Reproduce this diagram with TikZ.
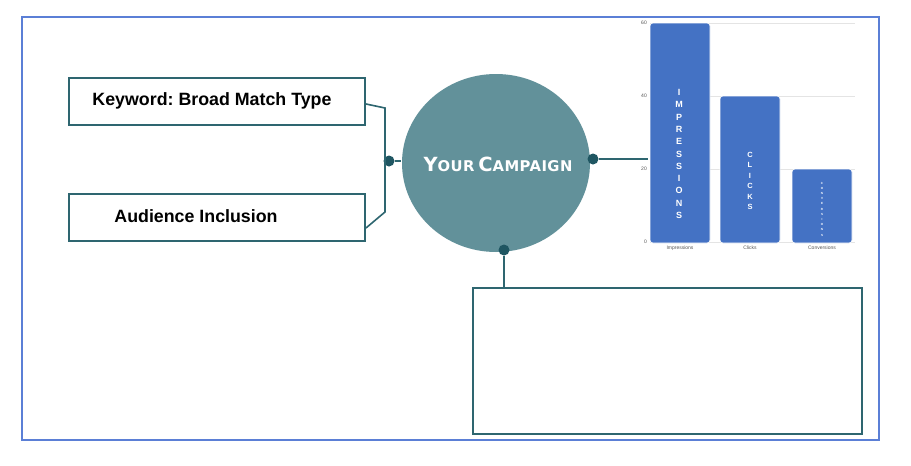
\documentclass[tikz,border=0pt]{standalone}
\usepackage{fontspec}
\usetikzlibrary{shapes.geometric}
\setmainfont{Liberation Sans}
\newfontfamily\titlefont[LetterSpace=3]{DejaVu Sans}
\definecolor{frameblue}{HTML}{5B7FD6}
\definecolor{tealline}{HTML}{2E6670}
\definecolor{tealdot}{HTML}{1F5662}
\definecolor{tealfill}{HTML}{62919A}
\definecolor{barblue}{HTML}{4472C4}
\definecolor{gridgray}{HTML}{E4E4E4}
\definecolor{labgray}{HTML}{555555}
\tikzset{
  inbox/.style={draw=tealline, line width=2pt, fill=white, minimum width=296pt, minimum height=47pt, inner sep=0pt},
  conn/.style={draw=tealline, line width=1.6pt},
  dotmark/.style={circle, fill=tealdot, minimum size=11pt, inner sep=0pt},
  bar/.style={fill=barblue, draw=white, line width=0.6pt, rounded corners=3pt},
  stackl/.style={text=white, align=center, inner sep=0pt, font=\bfseries},
  axlab/.style={text=labgray, inner sep=0pt, font=\fontsize{5}{6}\selectfont},
  boxtext/.style={inner sep=0pt, font=\frenchspacing\bfseries\fontsize{17.8}{20}\selectfont},
}
\begin{document}
\begin{tikzpicture}[x=1pt,y=-1pt]
\useasboundingbox (0,0) rectangle (911,466);
\fill[white] (0,0) rectangle (911,466);
\draw[frameblue, line width=1.5pt] (22,17) rectangle (879,440);

% chart
\foreach \yy in {23,96,169} \draw[gridgray, line width=0.6pt] (650,\yy) -- (855,\yy);
\draw[gridgray, line width=0.6pt] (650,242) -- (855,242);
\node[axlab, anchor=east] (l60) at (647,23) {60};
\node[axlab, anchor=east] (l40) at (647,96) {40};
\node[axlab, anchor=east] (l20) at (647,169) {20};
\node[axlab, anchor=east] (l0) at (647,242) {0};
\path[bar] (650,243) -- (650,23) -- (710,23) -- (710,243) -- cycle;
\path[bar] (720,243) -- (720,96) -- (780,96) -- (780,243) -- cycle;
\path[bar] (792,243) -- (792,169) -- (852,169) -- (852,243) -- cycle;
\coordinate (chartleft) at (648,159);
\node[stackl, font=\bfseries\fontsize{9}{12.3}\selectfont] (timp) at (679,154) {I\\M\\P\\R\\E\\S\\S\\I\\O\\N\\S};
\node[stackl, font=\bfseries\fontsize{7.5}{10.5}\selectfont] (tclk) at (750,181) {C\\L\\I\\C\\K\\S};
\node[stackl, font=\bfseries\fontsize{3}{5.2}\selectfont] (tconv) at (822,209) {C\\O\\N\\V\\E\\R\\S\\I\\O\\N\\S};
\node[axlab] (ximp) at (680,248) {Impressions};
\node[axlab] (xclk) at (750,248) {Clicks};
\node[axlab] (xconv) at (822,248) {Conversions};

% boxes
\node[inbox] (kw) at (217,101.5) {};
\node[boxtext] (kwt) at (212,101) {Keyword: Broad Match Type};
\node[inbox] (aud) at (217,217.5) {};
\node[boxtext] (audt) at (196,216) {Audience Inclusion};
\node[draw=tealline, line width=2.2pt, minimum width=389pt, minimum height=146pt, inner sep=0pt] (bot) at (667.5,361) {};

% central circle
\node[ellipse, fill=tealfill, minimum width=188pt, minimum height=178pt, inner sep=0pt] (camp) at (496,163) {};
\node[text=white, inner sep=0pt, font=\titlefont\bfseries] (campt) at (498,164) {{\fontsize{19.5}{20}\selectfont Y}{\fontsize{14.8}{15}\selectfont OUR} {\fontsize{19.5}{20}\selectfont C}{\fontsize{14.8}{15}\selectfont AMPAIGN}};

% connectors
\node[dotmark] (dl) at (389,161) {};
\node[dotmark] (dr) at (593,159) {};
\node[dotmark] (db) at (504,250) {};
\coordinate (j1) at (385,108);
\coordinate (j2) at (385,212);
\draw[conn] (kw.east |- 0,104) -- (j1) -- (j2) -- (aud.east |- 0,228);
\draw[conn] (dl) -- (401,161);
\draw[conn] (dr) -- (chartleft);
\draw[conn] (db) -- (db |- bot.north);
\end{tikzpicture}
\end{document}
